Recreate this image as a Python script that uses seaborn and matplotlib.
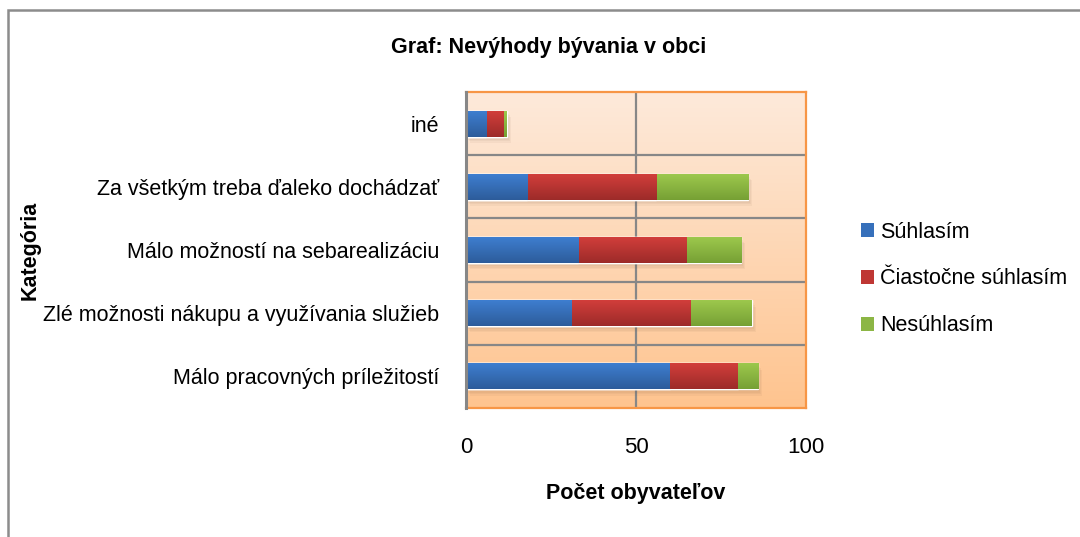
import matplotlib
matplotlib.use("Agg")
import matplotlib.pyplot as plt
from matplotlib.patches import Rectangle, Patch
from matplotlib.colors import LinearSegmentedColormap
import numpy as np
import pandas as pd
import seaborn as sns

# ------------------------------------------------------------
#  Data
# ------------------------------------------------------------
categories = [
    "iné",
    "Za všetkým treba ďaleko dochádzať",
    "Málo možností na sebarealizáciu",
    "Zlé možnosti nákupu a využívania služieb",
    "Málo pracovných príležitostí",
]
suhlasim = [6, 18, 33, 31, 60]
ciastocne = [5, 38, 32, 35, 20]
nesuhlasim = [1, 27, 16, 18, 6]
series_names = ["Súhlasím", "Čiastočne súhlasím", "Nesúhlasím"]
x_ticks = [0, 50, 100]

colors = ["#3670BB", "#BF3734", "#8CB645"]
grad_top = ["#3E7ED0", "#D23E3B", "#9DC84D"]
grad_bot = ["#2D5C9A", "#9C2B29", "#76A034"]

df = pd.DataFrame({"kategoria": categories, "s": suhlasim, "c": ciastocne, "n": nesuhlasim})
df["s_end"] = df["s"]
df["c_end"] = df["s"] + df["c"]
df["n_end"] = df["s"] + df["c"] + df["n"]

sns.set_style("white")
plt.rcParams["font.family"] = ["Liberation Sans", "DejaVu Sans"]
plt.rcParams["text.color"] = "black"

W, H = 1080, 537
fig = plt.figure(figsize=(W / 100, H / 100), dpi=100)
ax = fig.add_axes([466 / W, 1 - 408 / H, 340 / W, 316 / H])

# plot area gradient background
bg = np.linspace(0, 1, 256).reshape(-1, 1)
bg_cmap = LinearSegmentedColormap.from_list("bg", ["#FDEADB", "#FFC48F"])
ax.imshow(bg, cmap=bg_cmap, aspect="auto", extent=[0, 1, 0, 1],
          transform=ax.transAxes, zorder=0)

# stacked bars: draw cumulative totals from largest to smallest
bar_h = 0.41
layers = [("n_end", 2), ("c_end", 1), ("s_end", 0)]
for col, ci in layers:
    sns.barplot(data=df, x=col, y="kategoria", color=colors[ci], saturation=1,
                width=bar_h, errorbar=None, orient="h", ax=ax, zorder=3)

ax.set_xlim(0, 100)
ax.set_ylim(len(categories) - 0.5, -0.5)

# soft shadows + vertical gradient on each bar
patches = list(ax.patches)
n_cat = len(categories)
for k, (col, ci) in enumerate(layers):
    cmap = LinearSegmentedColormap.from_list(f"g{ci}", [grad_top[ci], grad_bot[ci]])
    for p in patches[k * n_cat:(k + 1) * n_cat]:
        x0, y0 = p.get_x(), p.get_y()
        w, h = p.get_width(), p.get_height()
        if k == 0:
            for s in range(1, 5):
                ax.add_patch(Rectangle((x0 + 0.3 * s, y0 + 0.025 * s), w, h,
                                       color="#7a5a40", alpha=0.06, zorder=2, lw=0))
        im = ax.imshow(bg, cmap=cmap, aspect="auto",
                       extent=[x0, x0 + w, y0 + h, y0], zorder=4)
        im.set_clip_path(p)

# gridlines
for yb in np.arange(0.5, n_cat - 0.5, 1):
    ax.axhline(yb, color="#878787", lw=1.6, zorder=1)
ax.axvline(50, color="#878787", lw=1.6, zorder=1)

for side in ["top", "right", "bottom"]:
    ax.spines[side].set_color("#F79646")
    ax.spines[side].set_linewidth(1.6)
ax.spines["left"].set_color("#878787")
ax.spines["left"].set_linewidth(2.2)
ax.spines["left"].set_zorder(5)

ax.set_xticks(x_ticks)
ax.set_xticklabels([str(t) for t in x_ticks])
ax.tick_params(axis="x", length=7, width=1.2, color="#878787", direction="out",
               pad=14, labelsize=16, labelcolor="black")
ax.tick_params(axis="y", length=0, pad=19, labelsize=15.5, labelcolor="black")
ax.set_xlabel("")
ax.set_ylabel("")

# titles / labels
fig.text(549 / W, 1 - 47 / H, "Graf: Nevýhody bývania v obci", ha="center", va="center",
         fontsize=15.5, fontweight="bold", color="black")
fig.text(636 / W, 1 - 494 / H, "Počet obyvateľov", ha="center", va="center",
         fontsize=15.5, fontweight="bold", color="black")
fig.text(30 / W, 1 - 250 / H, "Kategória", ha="center", va="center",
         fontsize=15.5, fontweight="bold", rotation=90, color="black")

# legend
handles = [Patch(facecolor=c, edgecolor="none") for c in colors]
leg = fig.legend(handles, series_names, loc="upper left", bbox_to_anchor=(852 / W, 1 - 213 / H),
                 frameon=False, fontsize=15.5, handlelength=0.6, handleheight=0.6,
                 handletextpad=0.3, labelspacing=1.2, borderaxespad=0)
for t in leg.get_texts():
    t.set_color("black")

# outer chart border (cut off at right and bottom like the reference)
fig.add_artist(Rectangle((8 / W, -0.2), 1.2, 0.2 + (1 - 10 / H), transform=fig.transFigure,
                         fill=False, edgecolor="#8C8C8C", lw=1.8))

fig.savefig("out.png", dpi=100)
